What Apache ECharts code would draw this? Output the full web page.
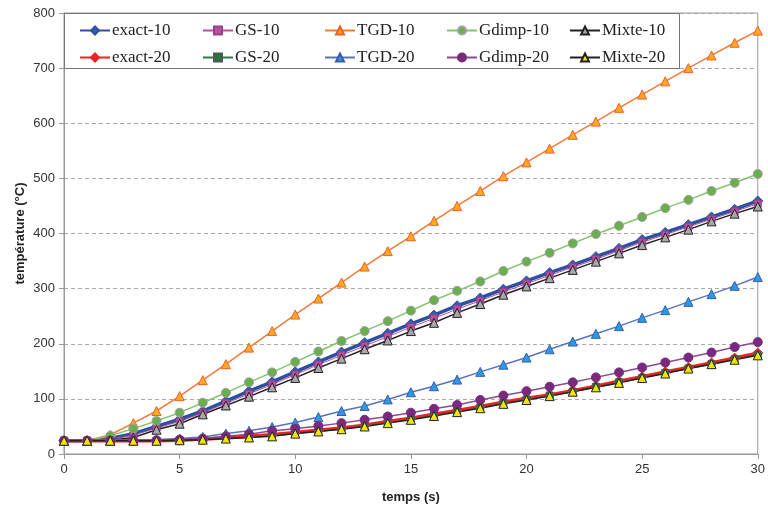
<!DOCTYPE html>
<html>
<head>
<meta charset="utf-8">
<script src="https://cdn.jsdelivr.net/npm/echarts@6/dist/echarts.min.js"></script>
<style>html,body{margin:0;padding:0;background:#fff}#c{width:768px;height:509px}</style>
</head>
<body>
<div id="c"></div>
<script>
const times = [0,1,2,3,4,5,6,7,8,9,10,11,12,13,14,15,16,17,18,19,20,21,22,23,24,25,26,27,28,29,30];
const exact10 = [24,24,28,37,50,63,78,96,114,131,149,167,185,202,219,236,252,269,283,299,314,329,343,358,373,389,402,416,430,444,459];
const gs10    = [24,24,27,34,47,59,75,92,109,126,144,162,179,196,213,230,246,263,278,294,309,324,339,353,369,384,398,412,426,440,454];
const tgd10   = [24,24,35,56,78,105,134,163,193,223,253,282,311,340,368,395,423,450,477,504,529,554,579,603,628,652,676,700,723,746,768];
const gdimp10 = [24,24,33,46,60,75,93,111,130,148,167,186,205,223,241,260,279,296,313,332,349,365,382,399,414,430,446,461,477,492,508];
const mixte10 = [24,24,25,30,44,55,72,88,104,121,138,156,173,190,206,223,238,256,272,289,304,319,334,349,364,379,393,407,422,436,449];
const exact20 = [24,24,24,24,24,25,27,29,32,35,39,43,47,52,59,65,72,79,86,94,101,107,115,123,132,140,149,157,165,174,183];
const gs20    = [24,24,24,24,24,25,26,28,31,33,37,42,46,51,57,63,70,77,84,92,99,106,113,122,130,138,147,155,163,172,180];
const tgd20   = [24,24,24,25,26,28,31,37,42,49,57,67,78,87,99,112,123,135,149,162,175,190,204,218,232,247,261,276,290,305,321];
const gdimp20 = [24,24,24,24,25,26,28,32,36,42,46,51,56,62,68,75,82,89,98,106,114,122,130,139,148,157,166,175,184,194,203];
const mixte20 = [24,24,24,24,24,25,26,28,30,32,37,41,45,50,56,62,69,76,83,91,98,105,113,121,129,138,146,155,163,171,179];
const yTicks = [0,100,200,300,400,500,600,700,800];
const xTicks = [0,5,10,15,20,25,30];

const pairs = arr => arr.map((v, i) => [times[i], v]);

const defs = [
  {name:'exact-10', data:exact10, color:'#2f4f9f', lw:3.5, sym:'diamond', size:10, fill:'#3a5cb0', border:'#2f4f9f'},
  {name:'GS-10', data:gs10, color:'#b5519f', lw:1, sym:'rect', size:7, fill:'#b5519f', border:'#9a3f88'},
  {name:'TGD-10', data:tgd10, color:'#f47a3a', lw:1.5, sym:'triangle', size:9, fill:'#fbaa22', border:'#f0602a'},
  {name:'Gdimp-10', data:gdimp10, color:'#82c46a', lw:1.5, sym:'circle', size:9, fill:'#6aae4e', border:'#a0a0a0'},
  {name:'Mixte-10', data:mixte10, color:'#222222', lw:1.5, sym:'triangle', size:9, fill:'#a8a8a8', border:'#222222'},
  {name:'exact-20', data:exact20, color:'#ee2222', lw:3.5, sym:'diamond', size:10, fill:'#ee2222', border:'#ee2222'},
  {name:'GS-20', data:gs20, color:'#2a7a45', lw:1, sym:'rect', size:7, fill:'#1f7a3f', border:'#555555'},
  {name:'TGD-20', data:tgd20, color:'#5a72c0', lw:1.5, sym:'triangle', size:9, fill:'#2a9be0', border:'#3a5cb0'},
  {name:'Gdimp-20', data:gdimp20, color:'#8a4a90', lw:1.5, sym:'circle', size:9, fill:'#7a2a7e', border:'#7a2a7e'},
  {name:'Mixte-20', data:mixte20, color:'#222222', lw:1.5, sym:'triangle', size:9, fill:'#f2e600', border:'#222222'}
];

const series = defs.map(d => ({
  name: d.name, type: 'line', data: pairs(d.data),
  symbol: d.sym, symbolSize: d.size, showSymbol: true,
  lineStyle: {color: d.color, width: d.lw},
  itemStyle: {color: d.fill, borderColor: d.border, borderWidth: 1},
  emphasis: {disabled: true},
  animation: false
}));

const colX = [74, 197, 319, 441, 564];
const legends = colX.map((x, i) => ({
  orient: 'vertical', left: x, top: 17, itemGap: 10,
  itemWidth: 30, itemHeight: 10,
  data: [defs[i].name, defs[i+5].name],
  textStyle: {fontFamily: 'Liberation Serif', fontSize: 17, color: '#222', padding: [0,0,0,-3]},
  selectedMode: false, z: 10
}));

const chart = echarts.init(document.getElementById('c'), null, {renderer: 'canvas'});
chart.setOption({
  backgroundColor: '#fff',
  animation: false,
  grid: {left: 64, right: 7, top: 13, bottom: 55, show: true, borderColor: '#999', borderWidth: 1},
  graphic: [{type: 'rect', left: 64, top: 13, shape: {width: 615, height: 55}, style: {fill: '#fff', stroke: '#777', lineWidth: 1}, z: 5}],
  legend: legends,
  xAxis: {
    type: 'value', min: 0, max: 30, interval: 5,
    name: 'temps (s)', nameLocation: 'middle', nameGap: 37,
    nameTextStyle: {fontFamily: 'Liberation Sans', fontSize: 13, fontWeight: 'bold', color: '#222'},
    axisLine: {show: true, lineStyle: {color: '#999'}},
    axisTick: {show: true, length: 5, lineStyle: {color: '#999'}},
    axisLabel: {fontFamily: 'Liberation Sans', fontSize: 13, color: '#333', margin: 9,
      formatter: v => xTicks.includes(v) ? String(v) : ''},
    splitLine: {show: false}
  },
  yAxis: {
    type: 'value', min: 0, max: 800, interval: 100,
    name: 'température (°C)', nameLocation: 'middle', nameGap: 37, nameMoveOverlap: false,
    nameTextStyle: {fontFamily: 'Liberation Sans', fontSize: 13, fontWeight: 'bold', color: '#222'},
    axisLine: {show: true, lineStyle: {color: '#999'}},
    axisTick: {show: true, length: 5, lineStyle: {color: '#999'}},
    axisLabel: {fontFamily: 'Liberation Sans', fontSize: 13, color: '#333', margin: 9,
      formatter: v => yTicks.includes(v) ? String(v) : ''},
    splitLine: {show: true, lineStyle: {color: '#aaa', type: [4, 3]}}
  },
  series: series
});
</script>
</body>
</html>
